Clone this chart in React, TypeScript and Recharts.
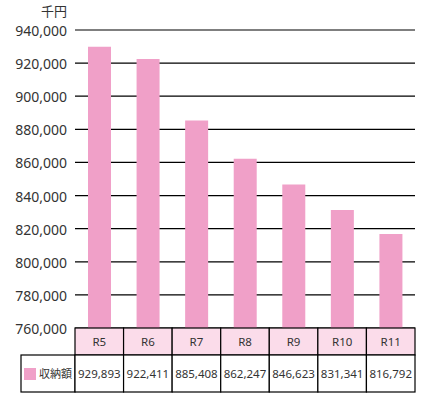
import { BarChart, Bar, XAxis, YAxis, CartesianGrid } from 'recharts'

const years = ['R5', 'R6', 'R7', 'R8', 'R9', 'R10', 'R11']
const amounts = [929893, 922411, 885408, 862247, 846623, 831341, 816792]
const yTicks = [760000, 780000, 800000, 820000, 840000, 860000, 880000, 900000, 920000, 940000]
const seriesName = '収納額'
const unitLabel = '千円'

const BAR = '#F0A0C8'
const HEAD = '#FBDCEA'
const TEXT = '#333333'
const FONT = "'Noto Sans', 'Noto Sans CJK JP', sans-serif"

const W = 421
const H = 397
const PLOT_LEFT = 75
const PLOT_RIGHT = 415
const PLOT_TOP = 30
const PLOT_BOTTOM = 328
const HEAD_H = 27
const ROW_H = 37
const LEGEND_LEFT = 21
const COL_W = (PLOT_RIGHT - PLOT_LEFT) / years.length

const data = years.map((name, i) => ({ name, amount: amounts[i] }))

const fmt = (v: number) => v.toLocaleString('en-US')

const TableTick = (props: any) => {
  const { x, index, payload } = props
  const left = x - COL_W / 2
  const rowTop = PLOT_BOTTOM + HEAD_H
  return (
    <g>
      {index === 0 && (
        <g>
          <rect x={LEGEND_LEFT} y={rowTop} width={PLOT_LEFT - LEGEND_LEFT} height={ROW_H} fill="#fff" stroke="#000" strokeWidth={1.2} />
          <rect x={24} y={368} width={12} height={12} fill={BAR} />
          <text x={39} y={378} fontSize={11} fill={TEXT} fontFamily={FONT}>{seriesName}</text>
        </g>
      )}
      <rect x={left} y={PLOT_BOTTOM} width={COL_W} height={HEAD_H} fill={HEAD} stroke="#000" strokeWidth={1.2} />
      <text x={x} y={PLOT_BOTTOM + 18} textAnchor="middle" fontSize={11.5} fill={TEXT} fontFamily={FONT}>
        {payload.value}
      </text>
      <rect x={left} y={rowTop} width={COL_W} height={ROW_H} fill="#fff" stroke="#000" strokeWidth={1.2} />
      <text x={x} y={rowTop + 23} textAnchor="middle" fontSize={11.5} fill={TEXT} fontFamily={FONT}>
        {fmt(amounts[index])}
      </text>
    </g>
  )
}

export default function App() {
  return (
    <div style={{ position: 'absolute', left: 0, top: 0, width: W, height: H, background: '#fff' }}>
      <BarChart
        width={W}
        height={H}
        data={data}
        margin={{ top: PLOT_TOP, right: W - PLOT_RIGHT, bottom: 0, left: 0 }}
      >
        <CartesianGrid vertical={false} stroke="#000" strokeWidth={1.2} />
        <XAxis
          dataKey="name"
          axisLine={false}
          tickLine={false}
          height={H - PLOT_BOTTOM}
          interval={0}
          tick={<TableTick />}
        />
        <YAxis
          domain={[760000, 940000]}
          ticks={yTicks}
          axisLine={false}
          tickLine={false}
          width={PLOT_LEFT}
          tickMargin={2}
          tickFormatter={fmt}
          tick={{ fontSize: 14, fill: TEXT, fontFamily: FONT, dy: 1 }}
          label={() => (
            <text x={67} y={16} textAnchor="end" fontSize={13} fill={TEXT} fontFamily={FONT}>
              {unitLabel}
            </text>
          )}
        />
        <Bar dataKey="amount" fill={BAR} barSize={23} isAnimationActive={false} />
      </BarChart>
    </div>
  )
}
